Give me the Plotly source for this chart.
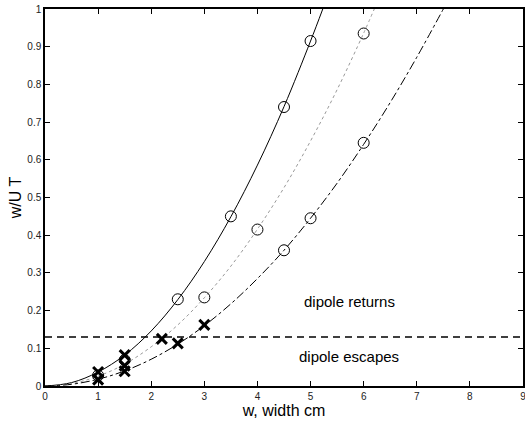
import plotly.graph_objects as go

# curve samples
curve_x = [0, 0.5, 1, 1.5, 2, 2.5, 3, 3.5, 4, 4.5, 5, 5.23]
solid_y = [0, 0.009, 0.037, 0.082, 0.146, 0.229, 0.33, 0.449, 0.586, 0.741, 0.915, 1.0]

dot_x = [0, 0.5, 1, 1.5, 2, 2.5, 3, 3.5, 4, 4.5, 5, 5.5, 6, 6.2]
dot_y = [0, 0.0065, 0.026, 0.058, 0.104, 0.162, 0.234, 0.318, 0.416, 0.526, 0.65, 0.786, 0.936, 1.0]

dd_x = [0, 0.5, 1, 1.5, 2, 2.5, 3, 3.5, 4, 4.5, 5, 5.5, 6, 6.5, 7, 7.5]
dd_y = [0, 0.0045, 0.018, 0.04, 0.071, 0.111, 0.16, 0.218, 0.285, 0.36, 0.445, 0.538, 0.641, 0.752, 0.872, 1.0]

circle_x = [2.5, 3.5, 4.5, 5, 3, 4, 6, 4.5, 5, 6, 1.5, 1]
circle_y = [0.23, 0.45, 0.74, 0.915, 0.235, 0.415, 0.935, 0.36, 0.445, 0.645, 0.069, 0.028]

cross_x = [1, 1, 1.5, 1.5, 1.5, 2.2, 2.5, 3]
cross_y = [0.037, 0.017, 0.082, 0.054, 0.039, 0.125, 0.113, 0.162]

threshold = 0.13
x_ticks = [0, 1, 2, 3, 4, 5, 6, 7, 8, 9]
y_ticks = [0, 0.1, 0.2, 0.3, 0.4, 0.5, 0.6, 0.7, 0.8, 0.9, 1]
y_tick_text = ["0", "0.1", "0.2", "0.3", "0.4", "0.5", "0.6", "0.7", "0.8", "0.9", "1"]

fig = go.Figure()
fig.add_trace(go.Scatter(x=curve_x, y=solid_y, mode="lines", line=dict(color="black", width=1, shape="spline")))
fig.add_trace(go.Scatter(x=dot_x, y=dot_y, mode="lines", line=dict(color="#999999", width=1, dash="dot", shape="spline")))
fig.add_trace(go.Scatter(x=dd_x, y=dd_y, mode="lines", line=dict(color="black", width=1, dash="dashdot", shape="spline")))
fig.add_trace(go.Scatter(x=[0, 9], y=[threshold, threshold], mode="lines", line=dict(color="black", width=1.5, dash="7px,5px")))
fig.add_trace(go.Scatter(x=circle_x, y=circle_y, mode="markers",
                         marker=dict(symbol="circle-open", size=11, color="black", line=dict(width=1))))
fig.add_trace(go.Scatter(x=cross_x, y=cross_y, mode="markers",
                         marker=dict(symbol="x-thin-open", size=10, color="black", line=dict(width=3, color="black"))))

fig.add_annotation(x=5.74, y=0.224, text="dipole returns", showarrow=False,
                   font=dict(family="Liberation Sans, Arial", size=15, color="black"))
fig.add_annotation(x=5.72, y=0.078, text="dipole escapes", showarrow=False,
                   font=dict(family="Liberation Sans, Arial", size=15, color="black"))

axis_common = dict(showline=True, linecolor="black", linewidth=1.5, mirror="ticks", ticks="inside",
                   ticklen=5, tickcolor="black", showgrid=False, zeroline=False, automargin=False,
                   ticklabeloverflow="allow",
                   tickfont=dict(family="Liberation Sans, Arial", size=10, color="#222222"))
fig.update_xaxes(range=[0, 9], tickvals=x_ticks, title=dict(text="w, width cm", standoff=4,
                 font=dict(family="Liberation Sans, Arial", size=16, color="black")), **axis_common)
fig.update_yaxes(range=[0, 1], tickvals=y_ticks, ticktext=y_tick_text, title=dict(text="w/U T", standoff=2,
                 font=dict(family="Liberation Sans, Arial", size=16, color="black")), **axis_common)

fig.update_layout(width=525, height=427, showlegend=False, plot_bgcolor="white", paper_bgcolor="white",
                  margin=dict(l=45, r=2, t=9, b=41))
fig.write_html("out.html", config={"displayModeBar": False},
               post_script="document.body.style.margin='0';document.body.style.overflow='hidden';")
